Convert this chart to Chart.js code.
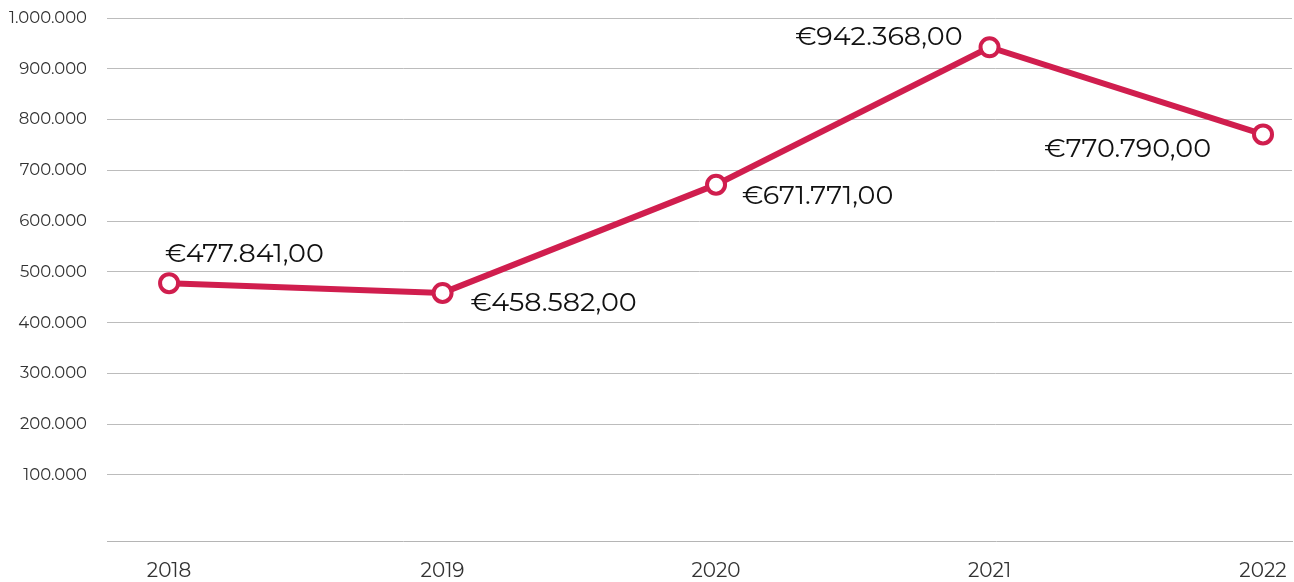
<!DOCTYPE html>
<html>
<head>
<meta charset="utf-8">
<script src="https://cdn.jsdelivr.net/npm/chart.js@4.4.0/dist/chart.umd.min.js"></script>
<style>
  html, body { margin: 0; padding: 0; background: #fff; overflow: hidden; }
  #wrap { width: 1294px; height: 582px; position: relative; }
  canvas { display: block; }
</style>
</head>
<body>
<div id="wrap"><canvas id="grafico"></canvas></div>
<script>
// datos
const anios = [2018, 2019, 2020, 2021, 2022];
const valores = [477841, 458582, 671771, 942368, 770790];
const ticksY = [100000, 200000, 300000, 400000, 500000, 600000, 700000, 800000, 900000, 1000000];

const rojo = '#D01E4E';
const fuente = "'Montserrat', 'DejaVu Sans', sans-serif";

function miles(n) {
    return String(Math.round(n)).replace(/\B(?=(\d{3})+(?!\d))/g, '.');
}
function euros(n) {
    return '€' + miles(n) + ',00';
}

// donde va cada etiqueta respecto a su punto
const posEtiquetas = [
    { dx: -4, dy: -29, align: 'left' },
    { dx: 28, dy: 10, align: 'left' },
    { dx: 26, dy: 11, align: 'left' },
    { dx: -27, dy: -10, align: 'right' },
    { dx: -52, dy: 15, align: 'right' }
];

const etiquetasValor = {
    id: 'etiquetasValor',
    afterDatasetsDraw(chart) {
        const ctx = chart.ctx;
        const meta = chart.getDatasetMeta(0);
        ctx.save();
        ctx.font = '27px ' + fuente;
        ctx.fillStyle = '#111';
        ctx.textBaseline = 'middle';
        meta.data.forEach((pt, i) => {
            const p = posEtiquetas[i];
            ctx.textAlign = p.align;
            ctx.fillText(euros(valores[i]), pt.x + p.dx, pt.y + p.dy);
        });
        ctx.restore();
    }
};

new Chart(document.getElementById('grafico'), {
    type: 'line',
    data: {
        datasets: [{
            data: anios.map((a, i) => ({ x: a, y: valores[i] })),
            borderColor: rojo,
            borderWidth: 6,
            backgroundColor: '#fff',
            pointBackgroundColor: '#fff',
            pointBorderColor: rojo,
            pointBorderWidth: 4,
            pointRadius: 9,
            tension: 0,
            clip: false
        }]
    },
    options: {
        responsive: true,
        maintainAspectRatio: false,
        animation: false,
        layout: { autoPadding: false, padding: { top: 18, right: 2, left: 0, bottom: 0 } },
        plugins: {
            legend: { display: false },
            tooltip: { enabled: false }
        },
        scales: {
            x: {
                type: 'linear',
                min: 2017.773,
                max: 2022.106,
                afterBuildTicks: s => { s.ticks = anios.map(v => ({ value: v })); },
                afterFit: s => { s.height = 41; s.paddingLeft = 0; s.paddingRight = 0; },
                grid: { display: false },
                border: { display: true, color: '#b5b5b5', width: 1 },
                ticks: {
                    color: '#333',
                    font: { size: 20, family: fuente },
                    padding: 10,
                    callback: v => String(v)
                }
            },
            y: {
                min: -30000,
                max: 1000000,
                afterBuildTicks: s => { s.ticks = ticksY.map(v => ({ value: v })); },
                afterFit: s => { s.width = 107; s.paddingTop = 0; s.paddingBottom = 0; },
                grid: { color: '#bcbcbc', lineWidth: 1, drawTicks: false },
                border: { display: false },
                ticks: {
                    color: '#333',
                    font: { size: 16.5, family: fuente },
                    padding: 20,
                    callback: v => miles(v)
                }
            }
        }
    },
    plugins: [etiquetasValor]
});
</script>
</body>
</html>
